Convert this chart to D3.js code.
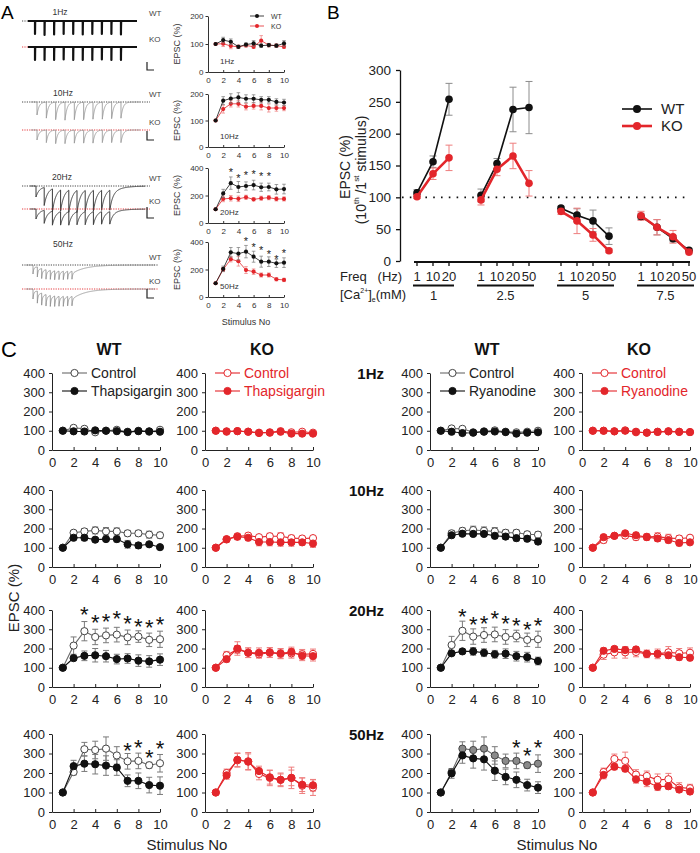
<!DOCTYPE html>
<html><head><meta charset="utf-8">
<script src="https://cdn.jsdelivr.net/npm/d3@7/dist/d3.min.js"></script>
<style>body{margin:0;background:#fff}svg{font-family:"Liberation Sans",Arial,sans-serif}</style>
</head><body><svg id="fig" width="700" height="853"></svg>
<script>
// ---------------- DATA ----------------
const stimulusNo = [1,2,3,4,5,6,7,8,9,10];
const freqLabels = ["1Hz","10Hz","20Hz","50Hz"];

// Panel A: example traces (peak amplitudes, nA)
const traceFreqHz = [1,10,20,50];
const traceWTAmp = [
  [1.3,1.4,1.35,1.3,1.3,1.35,1.3,1.3,1.3,1.35],
  [1.3,1.6,1.75,1.8,1.75,1.75,1.7,1.7,1.65,1.6],
  [1.1,1.8,2.3,2.1,2.2,2.2,2.1,2.1,2.0,2.0],
  [0.9,1.0,1.0,0.95,0.9,0.9,0.85,0.85,0.8,0.8]];
const traceKOAmp = [
  [1.3,1.3,1.3,1.25,1.3,1.3,1.3,1.25,1.3,1.3],
  [1.0,1.25,1.35,1.35,1.3,1.3,1.3,1.25,1.25,1.25],
  [1.0,1.3,1.4,1.35,1.35,1.3,1.3,1.3,1.25,1.25],
  [1.0,1.2,1.2,1.15,1.1,1.05,1.0,1.0,0.95,0.95]];

// Panel A: summary EPSC (%)
const aWT = [[100,114,108,90,98,102,94,96,94,102],[100,175,183,187,182,182,178,178,170,168],[100,215,290,262,269,276,260,262,245,247],[100,205,325,315,330,293,257,257,245,250]];
const aWTErr = [[0,10,10,6,6,10,6,6,6,10],[0,15,18,18,15,15,12,12,12,12],[0,30,45,40,30,35,30,28,35,35],[0,20,35,45,45,40,40,35,30,35]];
const aKO = [[100,101,93,90,95,90,112,96,94,90],[100,143,163,163,152,155,155,147,147,147],[100,175,180,176,187,172,180,184,175,175],[100,200,275,260,196,184,160,160,129,124]];
const aKOErr = [[0,10,10,6,6,6,18,6,6,6],[0,15,12,12,12,12,15,15,12,10],[0,20,20,20,15,12,15,15,15,15],[0,15,20,35,25,20,15,15,12,12]];
const aYMax = [200,200,400,400];
const aYTicks = [[0,100,200],[0,100,200],[0,200,400],[0,200,400]];
const aStarX = [[],[],[3,4,5,6,7,8],[5,6,7,8,9,10]];
const aStarY = [[],[],[385,342,364,371,356,356],[420,378,356,330,293,337]];

// Panel B
const bCaConc = ["1","2.5","5","7.5"];
const bFreqs = [["1","10","20"],["1","10","20","50"],["1","10","20","50"],["1","10","20","50"]];
const bWT = [[107,156,254],[103,153,238,241],[83,72,63,39],[70,53,35,17]];
const bWTErr = [[5,9,25],[10,8,35,41],[3,10,17,13],[5,12,5,3]];
const bKO = [[101,137,162],[96,144,165,122],[78,63,41,16],[71,53,38,14]];
const bKOErr = [[3,9,20],[8,10,20,20],[5,20,10,3],[7,12,10,3]];
const bYTicks = [0,50,100,150,200,250,300];

// Panel C (rows: 1Hz, 10Hz, 20Hz, 50Hz)
const wtThapCtrl = [[100,115,110,92,100,105,95,100,95,105],[100,178,185,190,185,185,175,175,168,165],[100,215,290,260,268,272,258,262,245,248],[100,205,322,318,325,290,260,262,240,250]];
const wtThapCtrlErr = [[0,8,6,5,5,10,5,5,6,12],[0,12,15,18,20,18,15,15,18,15],[0,45,50,40,38,38,38,30,35,42],[0,15,35,45,60,45,40,40,15,45]];
const wtThap = [[100,97,96,102,100,98,93,98,97,95],[100,152,152,142,145,145,118,112,118,103],[100,150,162,165,160,145,148,137,133,142],[100,235,248,245,238,228,160,160,138,135]];
const wtThapErr = [[0,6,5,5,5,6,5,5,5,5],[0,10,15,10,12,15,20,15,8,5],[0,12,25,35,30,25,25,30,30,30],[0,30,40,50,50,40,30,40,40,45]];
const koThapCtrl = [[100,95,98,95,90,92,98,92,95,90],[100,145,160,163,155,160,160,150,148,150],[100,165,195,178,170,178,172,175,170,172],[100,200,265,260,195,175,165,175,135,125]];
const koThapCtrlErr = [[0,8,8,6,5,6,10,8,6,6],[0,10,10,12,10,15,18,15,12,10],[0,20,20,25,20,25,25,25,25,25],[0,20,35,45,30,40,35,55,40,40]];
const koThap = [[100,97,98,95,88,90,95,85,85,85],[100,143,157,152,130,130,128,128,128,122],[100,145,200,178,178,180,175,182,162,160],[100,188,268,258,210,178,165,175,140,137]];
const koThapErr = [[0,6,6,6,6,6,8,8,8,6],[0,12,15,15,20,20,20,20,15,20],[0,15,35,25,25,25,25,25,25,25],[0,20,35,40,25,35,30,40,35,30]];
const wtRyanCtrl = [[100,112,110,92,97,102,95,92,95,100],[100,175,188,192,188,185,178,178,170,168],[100,218,292,262,270,273,260,265,245,248],[100,205,325,318,325,290,262,262,240,248]];
const wtRyanCtrlErr = [[0,8,6,5,6,12,6,6,6,12],[0,15,15,20,20,20,15,15,15,15],[0,45,50,40,38,38,38,30,35,42],[0,15,35,45,60,45,35,40,15,45]];
const wtRyan = [[100,95,88,90,95,96,93,85,90,92],[100,165,173,172,172,162,158,150,147,132],[100,175,185,185,178,170,173,160,155,135],[100,198,290,275,270,212,180,165,138,125]];
const wtRyanErr = [[0,5,5,5,5,5,5,5,5,5],[0,10,10,12,12,15,15,15,15,15],[0,10,12,20,20,20,25,25,25,20],[0,25,40,50,55,50,40,40,30,30]];
const koRyanCtrl = [[100,100,97,102,92,90,95,97,95,93],[100,140,162,163,155,157,158,150,148,152],[100,168,180,180,182,172,172,180,175,178],[100,205,272,262,192,185,165,168,125,122]];
const koRyanCtrlErr = [[0,5,5,5,5,6,5,5,5,5],[0,15,10,15,15,15,20,20,15,10],[0,25,30,30,25,20,25,30,25,25],[0,20,25,45,25,25,30,30,25,20]];
const koRyan = [[100,100,97,100,95,90,94,97,94,93],[100,155,162,175,165,155,148,140,125,128],[100,188,198,192,195,172,172,165,155,152],[100,190,232,222,168,155,130,132,115,105]];
const koRyanErr = [[0,5,5,5,5,5,5,5,5,5],[0,10,10,10,15,15,15,15,15,12],[0,15,12,15,15,15,15,15,15,15],[0,20,15,15,20,25,20,15,15,15]];
const cYTicks = [0,100,200,300,400];
const cXTicks = [0,2,4,6,8,10];
const wtThapStarX = [[],[],[3,4,5,6,7,8,9,10],[7,8,9,10]];
const wtThapStarY = [[],[],[400,360,364,379,353,336,331,348],[338,352,304,349]];
const wtRyanStarX = [[],[],[3,4,5,6,7,8,9,10],[8,9,10]];
const wtRyanStarY = [[],[],[391,348,353,379,353,343,322,343],[352,314,352]];

// ---------------- DRAWING ----------------
const svg = d3.select("#fig");
const RED = "#e3262b", RED_ERR = "#ee7d7d";

function panelLetter(t,x,y,size){svg.append("text").attr("x",x).attr("y",y).attr("font-size",size).text(t);}
panelLetter("A",1,19,19); panelLetter("B",327,19,19); panelLetter("C",1,357,22);

// ---- Panel A traces ----
const trGeom = [
  {x0:35, step:9.55, xs:28, xe:137, wt:21, ko:47, tau:8, sf:0, ts:50, col:"#111", w:2.2, lbl:[60,15], base:[22,137], bar:[62,70]},
  {x0:37, step:9.33, xs:31, xe:140, wt:102, ko:130, tau:22, sf:0, ts:50, col:"#9a9a9a", w:0.9, lbl:[63,96], base:[22,150], bar:[131,140]},
  {x0:36, step:8.2, xs:30, xe:145, wt:186, ko:209, tau:18, sf:0.2, ts:60, col:"#3a3a3a", w:1.0, lbl:[62,180], base:[22,150], bar:[207,218]},
  {x0:33, step:4.33, xs:26, xe:155, wt:265, ko:289, tau:3, sf:0.3, ts:60, col:"#8a8a8a", w:0.8, lbl:[63,247], base:[22,158], bar:[289,298]}];
const pxPerNA = 10;
traceFreqHz.forEach((f,r)=>{
  const G = trGeom[r];
  const period = 1000/f;
  const stimT = stimulusNo.map(n=>(n-1)*period);
  const tx = d3.scaleLinear().domain([0,9*period]).range([G.x0, G.x0+9*G.step]);
  const ampY = d3.scaleLinear().domain([0,1]).range([0,pxPerNA]);
  const t0 = tx.invert(G.xs), t1 = tx.invert(G.xe);
  const n = Math.round((G.xe-G.xs)*6);
  let ts = d3.range(n+1).map(i=>t0+(t1-t0)*i/n);
  stimT.forEach(t=>{ts.push(t-0.001); ts.push(t);});
  ts.sort((a,b)=>a-b);
  function cur(amps,t){let s=0;stimT.forEach((ti,i)=>{if(t>=ti){const d=t-ti;s+=amps[i]*((1-G.sf)*Math.exp(-d/G.tau)+G.sf*Math.exp(-d/G.ts));}});return s;}
  [[traceWTAmp[r],G.wt,"#333"],[traceKOAmp[r],G.ko,RED]].forEach(([amps,by,bc])=>{
    svg.append("line").attr("x1",G.base[0]).attr("x2",G.base[1]).attr("y1",by).attr("y2",by)
      .attr("stroke",bc).attr("stroke-width",0.9).attr("stroke-dasharray","1.2,1.2");
    const line = d3.line().x(t=>tx(t)).y(t=>by+ampY(cur(amps,t)));
    svg.append("path").attr("d",line(ts)).attr("fill","none").attr("stroke",G.col).attr("stroke-width",G.w).attr("stroke-linejoin","round");
  });
  svg.append("text").attr("x",G.lbl[0]).attr("y",G.lbl[1]).attr("font-size",8.5).attr("fill","#333").attr("text-anchor","middle").text(freqLabels[r]);
  svg.append("text").attr("x",149).attr("y",G.wt-5).attr("font-size",8).attr("fill","#444").text("WT");
  svg.append("text").attr("x",149).attr("y",G.ko-5).attr("font-size",8).attr("fill","#444").text("KO");
  svg.append("path").attr("d",`M147,${G.bar[0]}V${G.bar[1]}H154`).attr("fill","none").attr("stroke","#222").attr("stroke-width",1.2);
});

// ---- Panel A summary charts ----
const aGeom = [{y0:72,yt:16},{y0:147,yt:94},{y0:223,yt:168},{y0:297,yt:242}];
const aX = d3.scaleLinear().domain([0,10]).range([208,284]);
function errPath(x,y,v,e,cap){ if(!e) return ""; const xx=x, a=y(v+e), b=y(v-e); return `M${xx},${a}V${b}M${xx-cap},${a}h${2*cap}M${xx-cap},${b}h${2*cap}`; }
aGeom.forEach((G,r)=>{
  const y = d3.scaleLinear().domain([0,aYMax[r]]).range([G.y0,G.yt]);
  const g = svg.append("g");
  const ya = g.append("g").attr("transform",`translate(208,0)`).call(d3.axisLeft(y).tickValues(aYTicks[r]).tickSize(2.5).tickSizeOuter(0).tickPadding(2));
  const xa = g.append("g").attr("transform",`translate(0,${G.y0})`).call(d3.axisBottom(aX).tickValues([0,2,4,6,8,10]).tickSize(-2).tickSizeOuter(0).tickPadding(5));
  [ya,xa].forEach(a=>{a.selectAll("text").attr("font-size",8).attr("fill","#333").attr("font-family","Liberation Sans, Arial");a.selectAll("path,line").attr("stroke","#333");});
  g.append("text").attr("transform",`translate(180,${(G.y0+G.yt)/2}) rotate(-90)`).attr("text-anchor","middle").attr("font-size",9).attr("fill","#333").text("EPSC (%)");
  g.append("text").attr("x",220).attr("y",G.y0-8).attr("font-size",8).attr("fill","#333").text(freqLabels[r]);
  [[aKO[r],aKOErr[r],RED,RED_ERR],[aWT[r],aWTErr[r],"#111","#777"]].forEach(([vals,errs,c,ec])=>{
    g.selectAll(null).data(vals).enter().append("path").attr("d",(v,i)=>errPath(aX(stimulusNo[i]),y,v,errs[i],1.8)).attr("stroke",ec).attr("stroke-width",0.7).attr("fill","none");
    g.append("path").attr("d",d3.line().x((v,i)=>aX(stimulusNo[i])).y(v=>y(v))(vals)).attr("fill","none").attr("stroke",c).attr("stroke-width",0.8);
    g.selectAll(null).data(vals).enter().append("circle").attr("cx",(v,i)=>aX(stimulusNo[i])).attr("cy",v=>y(v)).attr("r",2.1).attr("fill",c);
  });
  aStarX[r].forEach((sx,i)=>g.append("text").attr("x",aX(sx)).attr("y",y(aStarY[r][i])+6).attr("text-anchor","middle").attr("font-size",11).attr("fill","#222").text("*"));
});
svg.append("text").attr("x",246).attr("y",325).attr("text-anchor","middle").attr("font-size",9).attr("fill","#333").text("Stimulus No");
[["WT","#111",16],["KO",RED,26]].forEach(([t,c,yy])=>{
  svg.append("line").attr("x1",250).attr("x2",264).attr("y1",yy).attr("y2",yy).attr("stroke",c).attr("stroke-width",0.8);
  svg.append("circle").attr("cx",257).attr("cy",yy).attr("r",2).attr("fill",c);
  svg.append("text").attr("x",271).attr("y",yy+2.5).attr("font-size",7).attr("fill","#333").text(t);
});

// ---- Panel B ----
const bStarts = []; {let s=0; bFreqs.forEach(fr=>{bStarts.push(s); s+=fr.length+1;});}
const bX = d3.scaleLinear().domain([0,17]).range([417,689]);
const bY = d3.scaleLinear().domain([0,300]).range([261,70]);
const gb = svg.append("g");
const bya = gb.append("g").attr("transform","translate(400,0)").call(d3.axisLeft(bY).tickValues(bYTicks).tickSize(4).tickSizeOuter(0).tickPadding(5));
bya.selectAll("text").attr("font-size",13.5).attr("fill","#222").attr("font-family","Liberation Sans, Arial");
bya.selectAll("path,line").attr("stroke","#111").attr("stroke-width",1.3);
gb.append("line").attr("x1",bX(0)-3).attr("x2",bX(17)+1).attr("y1",262).attr("y2",262).attr("stroke","#111").attr("stroke-width",2);
bFreqs.forEach((fr,gi)=>fr.forEach((f,j)=>{const xx=bX(bStarts[gi]+j); gb.append("line").attr("x1",xx).attr("x2",xx).attr("y1",262).attr("y2",266).attr("stroke","#111").attr("stroke-width",1.3);}));
gb.append("line").attr("x1",402).attr("x2",690).attr("y1",bY(100)).attr("y2",bY(100)).attr("stroke","#111").attr("stroke-width",1.8).attr("stroke-dasharray","1.6,6.2");
// y label
const ylab = gb.append("text").attr("transform","translate(350,167) rotate(-90)").attr("text-anchor","middle").attr("font-size",14).attr("fill","#222");
ylab.text("EPSC (%)");
const ylab2 = gb.append("text").attr("transform","translate(366,170) rotate(-90)").attr("text-anchor","middle").attr("font-size",14).attr("fill","#222");
ylab2.append("tspan").text("(10");
ylab2.append("tspan").attr("font-size",8).attr("dy",-7).text("th");
ylab2.append("tspan").attr("dy",7).text(" /1");
ylab2.append("tspan").attr("font-size",8).attr("dy",-7).text("st");
ylab2.append("tspan").attr("dy",7).text(" stimulus)");
// series
[[bWT,bWTErr,"#111","#8c8c8c"],[bKO,bKOErr,RED,RED_ERR]].forEach(([vals,errs,c,ec])=>{
  vals.forEach((gv,gi)=>{
    gv.forEach((v,j)=>gb.append("path").attr("d",errPath(bX(bStarts[gi]+j),bY,v,errs[gi][j],3.5)).attr("stroke",ec).attr("stroke-width",1).attr("fill","none"));
  });
});
[[bWT,"#111",1.6],[bKO,RED,2.6]].forEach(([vals,c,w])=>{
  vals.forEach((gv,gi)=>{
    gb.append("path").attr("d",d3.line().x((v,j)=>bX(bStarts[gi]+j)).y(v=>bY(v))(gv)).attr("fill","none").attr("stroke",c).attr("stroke-width",w);
    gb.selectAll(null).data(gv).enter().append("circle").attr("cx",(v,j)=>bX(bStarts[gi]+j)).attr("cy",v=>bY(v)).attr("r",3.8).attr("fill",c);
  });
});
// category labels
gb.append("text").attr("x",340).attr("y",281).attr("font-size",13).attr("fill","#222").attr("xml:space","preserve").text("Freq   (Hz)");
const ca = gb.append("text").attr("x",340).attr("y",299).attr("font-size",13).attr("fill","#222");
ca.append("tspan").text("[Ca");
ca.append("tspan").attr("font-size",7).attr("dy",-6).text("2+");
ca.append("tspan").attr("dy",6).text("]");
ca.append("tspan").attr("font-size",7).attr("dy",3).text("e");
ca.append("tspan").attr("dy",-3).text("(mM)");
bFreqs.forEach((fr,gi)=>{
  fr.forEach((f,j)=>gb.append("text").attr("x",bX(bStarts[gi]+j)).attr("y",281).attr("text-anchor","middle").attr("font-size",13).attr("fill","#222").text(f));
  const xa = bX(bStarts[gi])-4, xb = bX(bStarts[gi]+fr.length-1)+5;
  gb.append("line").attr("x1",xa).attr("x2",xb).attr("y1",285.5).attr("y2",285.5).attr("stroke","#111").attr("stroke-width",2);
  gb.append("text").attr("x",(xa+xb)/2).attr("y",300).attr("text-anchor","middle").attr("font-size",13).attr("fill","#222").text(bCaConc[gi]);
});
[["WT","#111",109,1.6],["KO",RED,126,2.6]].forEach(([t,c,yy,w])=>{
  gb.append("line").attr("x1",622).attr("x2",652).attr("y1",yy).attr("y2",yy).attr("stroke",c).attr("stroke-width",w);
  gb.append("circle").attr("cx",637).attr("cy",yy).attr("r",4).attr("fill",c);
  gb.append("text").attr("x",661).attr("y",yy+5).attr("font-size",15).attr("fill","#222").text(t);
});

// ---- Panel C ----
const cCols = [[52,160],[205,313],[430,538],[582,690]];
const cRows = [[450,373],[567,490],[687,610],[812,734]];
const cPanels = [
  {ctrl:wtThapCtrl, ce:wtThapCtrlErr, trt:wtThap, te:wtThapErr, ko:false, sx:wtThapStarX, sy:wtThapStarY, name:"Thapsigargin"},
  {ctrl:koThapCtrl, ce:koThapCtrlErr, trt:koThap, te:koThapErr, ko:true, sx:null, sy:null, name:"Thapsigargin"},
  {ctrl:wtRyanCtrl, ce:wtRyanCtrlErr, trt:wtRyan, te:wtRyanErr, ko:false, sx:wtRyanStarX, sy:wtRyanStarY, name:"Ryanodine"},
  {ctrl:koRyanCtrl, ce:koRyanCtrlErr, trt:koRyan, te:koRyanErr, ko:true, sx:null, sy:null, name:"Ryanodine"}];
cPanels.forEach((P,ci)=>{
  const x = d3.scaleLinear().domain([0,10]).range(cCols[ci]);
  cRows.forEach((R,ri)=>{
    const y = d3.scaleLinear().domain([0,400]).range(R);
    const g = svg.append("g");
    const ya = g.append("g").attr("transform",`translate(${cCols[ci][0]},0)`).call(d3.axisLeft(y).tickValues(cYTicks).tickSize(3).tickSizeOuter(0).tickPadding(4));
    const xa = g.append("g").attr("transform",`translate(0,${R[0]})`).call(d3.axisBottom(x).tickValues(cXTicks).tickSize(-3).tickSizeOuter(0).tickPadding(8));
    [ya,xa].forEach(a=>{a.selectAll("text").attr("font-size",13).attr("fill","#222").attr("font-family","Liberation Sans, Arial");a.selectAll("path,line").attr("stroke","#222");});
    const ctrlLine = P.ko ? RED : "#6a6a6a";
    const ctrlStroke = P.ko ? RED : "#444";
    const ctrlFill = (!P.ko && ci===2 && ri===3) ? "#8a8a8a" : "#fff";
    const trtC = P.ko ? RED : "#111";
    const errC = P.ko ? RED_ERR : "#7a7a7a";
    const series = [[P.ctrl[ri],P.ce[ri],ctrlLine,ctrlStroke,ctrlFill],[P.trt[ri],P.te[ri],trtC,trtC,trtC]];
    series.forEach(([vals,errs])=>{
      g.selectAll(null).data(vals).enter().append("path").attr("d",(v,i)=>errPath(x(stimulusNo[i]),y,v,errs[i],3)).attr("stroke",errC).attr("stroke-width",1).attr("fill","none");
    });
    series.forEach(([vals,errs,lc,sc,fc])=>{
      g.append("path").attr("d",d3.line().x((v,i)=>x(stimulusNo[i])).y(v=>y(v))(vals)).attr("fill","none").attr("stroke",lc).attr("stroke-width",1.1);
      g.selectAll(null).data(vals).enter().append("circle").attr("cx",(v,i)=>x(stimulusNo[i])).attr("cy",v=>y(v)).attr("r",3.6).attr("fill",fc).attr("stroke",sc).attr("stroke-width",1);
    });
    if(P.sx) P.sx[ri].forEach((sx,i)=>g.append("text").attr("x",x(sx)).attr("y",y(P.sy[ri][i])+12).attr("text-anchor","middle").attr("font-size",22).attr("fill","#111").text("*"));
  });
  // legend
  const lx = cCols[ci][0]+10;
  [["Control",373,"#fff"],[P.name,391,P.ko?RED:"#111"]].forEach(([t,yy,fc],k)=>{
    const col = P.ko ? RED : (k===0?"#6a6a6a":"#111");
    svg.append("line").attr("x1",lx).attr("x2",lx+25).attr("y1",yy).attr("y2",yy).attr("stroke",col).attr("stroke-width",1.1);
    svg.append("circle").attr("cx",lx+12.5).attr("cy",yy).attr("r",3.6).attr("fill",fc).attr("stroke",P.ko?RED:(k===0?"#444":"#111"));
    svg.append("text").attr("x",lx+29).attr("y",yy+5).attr("font-size",14).attr("fill",P.ko?RED:"#222").text(t);
  });
  // header
  svg.append("text").attr("x",(cCols[ci][0]+cCols[ci][1])/2+3).attr("y",355).attr("text-anchor","middle").attr("font-size",16).attr("font-weight","bold").attr("fill","#111").text(P.ko?"KO":"WT");
});
cRows.forEach((R,ri)=>svg.append("text").attr("x",384).attr("y",R[1]+6).attr("text-anchor","end").attr("font-size",15).attr("font-weight","bold").attr("fill","#111").text(freqLabels[ri]));
svg.append("text").attr("transform","translate(19,598) rotate(-90)").attr("text-anchor","middle").attr("font-size",15).attr("fill","#222").text("EPSC (%)");
svg.append("text").attr("x",187).attr("y",850).attr("text-anchor","middle").attr("font-size",15).attr("fill","#222").text("Stimulus No");
svg.append("text").attr("x",557).attr("y",850).attr("text-anchor","middle").attr("font-size",15).attr("fill","#222").text("Stimulus No");
</script></body></html>
